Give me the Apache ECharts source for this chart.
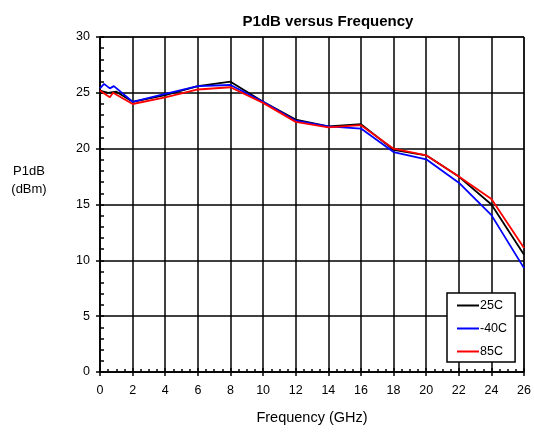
<!DOCTYPE html>
<html><head><meta charset="utf-8">
<script src="https://cdn.jsdelivr.net/npm/echarts@6/dist/echarts.min.js"></script>
<style>html,body{margin:0;padding:0;background:#fff}#c{width:534px;height:433px}</style>
</head><body><div id="c"></div>
<script>
const FONT = '"Liberation Sans",Arial,sans-serif';
const xTicks = [0,2,4,6,8,10,12,14,16,18,20,22,24,26];
const yTicks = [0,5,10,15,20,25,30];

const freq25 = [0, 0.5, 1, 2, 4, 6, 8, 10, 12, 14, 16, 18, 20, 22, 24, 26];
const p25    = [25.2, 25.0, 25.1, 24.2, 24.8, 25.6, 26.0, 24.2, 22.6, 22.0, 22.2, 19.9, 19.4, 17.5, 15.0, 10.5];

const freqM40 = [0, 0.25, 0.6, 0.85, 2, 4, 6, 8, 10, 12, 14, 16, 18, 20, 22, 24, 26];
const pM40    = [25.4, 25.8, 25.4, 25.6, 24.2, 24.9, 25.6, 25.7, 24.2, 22.5, 22.0, 21.8, 19.7, 19.05, 16.95, 14.05, 9.3];

const freq85 = [0, 0.3, 0.6, 0.8, 2, 4, 6, 8, 10, 12, 14, 16, 18, 20, 22, 24, 26];
const p85    = [25.2, 24.9, 24.6, 25.0, 24.0, 24.6, 25.3, 25.5, 24.1, 22.4, 21.9, 22.1, 20.0, 19.4, 17.5, 15.5, 11.1];

const names = ['25C', '-40C', '85C'];
const colors = ['#000000', '#0000ff', '#ff0000'];

const pairs = (xs, ys) => xs.map((x, i) => [x, ys[i]]);

const chart = echarts.init(document.getElementById('c'));
const xCommon = {type:'value', min:xTicks[0], max:xTicks[xTicks.length-1], interval:2, gridIndex:0};
const yCommon = {type:'value', min:yTicks[0], max:yTicks[yTicks.length-1], interval:5, gridIndex:0};
chart.setOption({
  animation:false,
  backgroundColor:'#fff',
  textStyle:{fontFamily:FONT},
  title:[
    {text:'P1dB versus Frequency', left:323, top:9, textAlign:'center',
     textStyle:{fontFamily:FONT, fontSize:15, fontWeight:'bold', color:'#000'}},
    {text:'P1dB\n(dBm)', left:24, top:157, textAlign:'center',
     textStyle:{fontFamily:FONT, fontSize:13, fontWeight:'normal', color:'#000', lineHeight:18}}
  ],
  grid:{left:100, right:6, top:37, bottom:61, show:true, borderColor:'#000', borderWidth:1, backgroundColor:'transparent'},
  legend:{
    data:names, orient:'vertical', left:447, top:293, width:73, height:71,
    backgroundColor:'#fff', borderColor:'#000', borderWidth:1.5,
    padding:[5,8,3,10], itemGap:8, itemWidth:22, itemHeight:2,
    icon:'rect',
    textStyle:{fontFamily:FONT, fontSize:12.5, color:'#000', padding:[0,0,0,-4], lineHeight:15}
  },
  xAxis:[
    Object.assign({}, xCommon, {
      name:'Frequency (GHz)', nameLocation:'middle', nameGap:38,
      nameTextStyle:{fontFamily:FONT, fontSize:14.5, color:'#000'},
      axisLine:{show:true, onZero:false, lineStyle:{color:'#000', width:1.5}},
      axisTick:{show:true, inside:false, length:4, lineStyle:{color:'#000', width:1.5}},
      axisLabel:{fontFamily:FONT, fontSize:12.5, color:'#000', margin:12},
      splitLine:{show:true, lineStyle:{color:'#000', width:1.5}},
      minorTick:{show:false}
    }),
    Object.assign({}, xCommon, {
      position:'bottom',
      axisLine:{show:false, onZero:false},
      axisTick:{show:true, inside:true, length:4, lineStyle:{color:'#000', width:1.5}},
      axisLabel:{show:false},
      splitLine:{show:false},
      minorTick:{show:true, splitNumber:4, length:3, lineStyle:{color:'#000', width:1.5}}
    })
  ],
  yAxis:[
    Object.assign({}, yCommon, {
      axisLine:{show:true, onZero:false, lineStyle:{color:'#000', width:1.5}},
      axisTick:{show:true, inside:false, length:4, lineStyle:{color:'#000', width:1.5}},
      axisLabel:{fontFamily:FONT, fontSize:12.5, color:'#000', margin:10},
      splitLine:{show:true, lineStyle:{color:'#000', width:1.5}},
      minorTick:{show:false}
    }),
    Object.assign({}, yCommon, {
      position:'left',
      axisLine:{show:false, onZero:false},
      axisTick:{show:true, inside:true, length:4, lineStyle:{color:'#000', width:1.5}},
      axisLabel:{show:false},
      splitLine:{show:false},
      minorTick:{show:true, splitNumber:5, length:4, lineStyle:{color:'#000', width:1.5}}
    })
  ],
  series:[
    {name:names[0], type:'line', data:pairs(freq25, p25), symbol:'none', color:colors[0], lineStyle:{width:1.8, color:colors[0]}, z:3},
    {name:names[1], type:'line', data:pairs(freqM40, pM40), symbol:'none', color:colors[1], lineStyle:{width:1.8, color:colors[1]}, z:4},
    {name:names[2], type:'line', data:pairs(freq85, p85), symbol:'none', color:colors[2], lineStyle:{width:1.8, color:colors[2]}, z:5}
  ]
});
</script></body></html>
